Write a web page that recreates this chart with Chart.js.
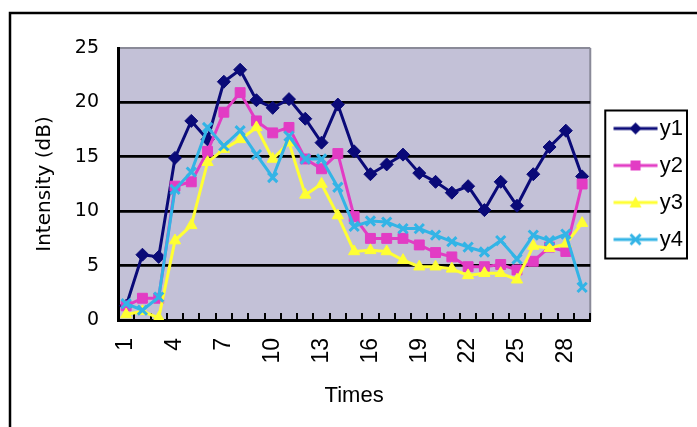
<!DOCTYPE html>
<html>
<head>
<meta charset="utf-8">
<script src="https://cdn.jsdelivr.net/npm/chart.js@4"></script>
<style>
html, body { margin: 0; padding: 0; background: #fff; }
</style>
</head>
<body>
<canvas id="intensityChart" width="697" height="427"></canvas>
<script>
// values
const categories = [1, 2, 3, 4, 5, 6, 7, 8, 9, 10, 11, 12, 13, 14, 15, 16, 17, 18, 19, 20, 21, 22, 23, 24, 25, 26, 27, 28, 29]
const tickLabels = [1, 4, 7, 10, 13, 16, 19, 22, 25, 28]
const yTicks = [0, 5, 10, 15, 20, 25]

const y1 = [1.3, 6.0, 5.8, 14.9, 18.3, 16.6, 21.9, 23.0, 20.2, 19.5, 20.3, 18.5, 16.3, 19.8, 15.5, 13.4, 14.3, 15.2, 13.5, 12.7, 11.7, 12.3, 10.1, 12.7, 10.5, 13.4, 15.9, 17.4, 13.2]
const y2 = [1.3, 2.0, 2.0, 12.3, 12.7, 15.5, 19.1, 20.9, 18.3, 17.2, 17.7, 14.8, 13.9, 15.3, 9.5, 7.5, 7.5, 7.5, 6.9, 6.2, 5.8, 4.9, 4.9, 5.1, 4.6, 5.4, 6.7, 6.3, 12.5]
const y3 = [0.5, 0.8, 0.2, 7.3, 8.7, 14.5, 15.7, 16.6, 17.7, 14.8, 16.3, 11.5, 12.5, 9.6, 6.3, 6.4, 6.3, 5.5, 4.9, 4.9, 4.7, 4.1, 4.3, 4.3, 3.7, 6.8, 6.6, 7.0, 8.9]
const y4 = [1.5, 0.9, 2.1, 12.0, 13.6, 17.7, 16.0, 17.4, 15.2, 13.1, 16.9, 14.8, 14.8, 12.2, 8.6, 9.1, 9.0, 8.4, 8.4, 7.8, 7.2, 6.7, 6.25, 7.3, 5.6, 7.8, 7.3, 7.9, 3.0]

const seriesNames = ['y1', 'y2', 'y3', 'y4']
const seriesColors = ['#0a0a78', '#e23cc4', '#ffff33', '#33b4e6']
const seriesStyles = ['rectRot', 'rect', 'triangle', 'crossRot']

// little line + marker pictures for the legend (left part left empty so the
// sample sits where the original one does)
function legendSample(color, style) {
    var c = document.createElement('canvas')
    c.width = 62
    c.height = 16
    var g = c.getContext('2d')
    var x0 = 17.5, x1 = 61.5, m = (x0 + x1) / 2
    g.strokeStyle = color
    g.fillStyle = color
    g.lineWidth = 3
    g.beginPath()
    g.moveTo(x0, 8)
    g.lineTo(x1, 8)
    g.stroke()
    g.beginPath()
    if (style === 'rectRot') {
        g.moveTo(m, 2); g.lineTo(m + 6, 8); g.lineTo(m, 14); g.lineTo(m - 6, 8); g.closePath(); g.fill()
    } else if (style === 'rect') {
        g.rect(m - 5, 3, 10, 10); g.fill()
    } else if (style === 'triangle') {
        g.moveTo(m, 2); g.lineTo(m + 6, 13); g.lineTo(m - 6, 13); g.closePath(); g.fill()
    } else {
        g.moveTo(m - 5, 3); g.lineTo(m + 5, 13); g.moveTo(m + 5, 3); g.lineTo(m - 5, 13); g.stroke()
    }
    return c
}

const frame = {
    id: 'frame',
    beforeDraw(chart) {
        const {ctx, chartArea: a} = chart
        ctx.save()
        ctx.fillStyle = '#c3c1d7'
        ctx.fillRect(a.left, a.top, a.right - a.left, a.bottom - a.top)
        ctx.strokeStyle = '#8a8a98'
        ctx.lineWidth = 2
        ctx.beginPath()
        ctx.moveTo(a.right, a.top)
        ctx.lineTo(a.right, a.bottom)
        ctx.stroke()
        // outer border of the picture
        ctx.strokeStyle = '#000'
        ctx.lineWidth = 2.5
        ctx.beginPath()
        ctx.moveTo(10, 427)
        ctx.lineTo(10, 13)
        ctx.lineTo(697, 13)
        ctx.stroke()
        ctx.restore()
    },
    afterDraw(chart) {
        const boxes = chart.legend.legendHitBoxes
        if (!boxes || !boxes.length) return
        const l = Math.min(...boxes.map(b => b.left))
        const t = Math.min(...boxes.map(b => b.top)) - 7
        const r = Math.max(...boxes.map(b => b.left + b.width)) + 4
        const bt = Math.max(...boxes.map(b => b.top + b.height)) + 8
        const ctx = chart.ctx
        ctx.save()
        ctx.strokeStyle = '#000'
        ctx.lineWidth = 2
        ctx.strokeRect(l, t, r - l, bt - t)
        ctx.restore()
    }
}

const datasets = [y1, y2, y3, y4].map((values, i) => ({
    label: seriesNames[i],
    data: values,
    borderColor: seriesColors[i],
    backgroundColor: seriesColors[i],
    borderWidth: 3,
    tension: 0,
    pointStyle: seriesStyles[i],
    pointRadius: seriesStyles[i] === 'rect' ? 7 : 6.5,
    pointBorderWidth: seriesStyles[i] === 'crossRot' ? 3 : 1,
    order: 4 - i
}))

new Chart(document.getElementById('intensityChart'), {
    type: 'line',
    data: {labels: categories, datasets: datasets},
    options: {
        responsive: false,
        animation: false,
        layout: {padding: {left: 33, top: 48, right: 4, bottom: 12}},
        plugins: {
            tooltip: {enabled: false},
            legend: {
                position: 'right',
                fullSize: false,
                labels: {
                    usePointStyle: true,
                    pointStyleWidth: 43.5,
                    padding: 15,
                    color: '#000',
                    font: {family: "'Liberation Sans', sans-serif", size: 22},
                    sort: (a, b) => a.datasetIndex - b.datasetIndex,
                    generateLabels(chart) {
                        const items = Chart.defaults.plugins.legend.labels.generateLabels(chart)
                        return items.map(item => {
                            item.pointStyle = legendSample(seriesColors[item.datasetIndex], seriesStyles[item.datasetIndex])
                            return item
                        })
                    }
                }
            }
        },
        scales: {
            x: {
                offset: true,
                grid: {display: true, offset: true, drawOnChartArea: false, drawTicks: true, tickLength: -7, color: '#000', lineWidth: 2},
                border: {color: '#000', width: 3},
                ticks: {
                    autoSkip: false,
                    minRotation: 90,
                    maxRotation: 90,
                    padding: 25,
                    color: '#000',
                    font: {family: "'Liberation Sans', sans-serif", size: 23},
                    callback: (value, index) => tickLabels.includes(categories[index]) ? String(categories[index]) : ''
                },
                title: {display: true, text: 'Times', color: '#000', font: {family: "'Liberation Sans', sans-serif", size: 22}, padding: {top: 0, bottom: 6}},
                afterFit(scale) { scale.height = 95 }
            },
            y: {
                min: 0,
                max: 25,
                afterBuildTicks(scale) { scale.ticks = yTicks.map(v => ({value: v})) },
                grid: {
                    color: c => c.tick && c.tick.value === 25 ? '#8a8a98' : '#000',
                    lineWidth: c => c.tick && c.tick.value === 25 ? 2 : 2.8,
                    drawTicks: false
                },
                border: {color: '#000', width: 3},
                ticks: {color: '#000', font: {family: "'DejaVu Sans', sans-serif", size: 19}, padding: 19},
                title: {display: true, text: 'Intensity (dB)', color: '#000', font: {family: "'DejaVu Sans', sans-serif", size: 20}, padding: {top: 0, bottom: 4}},
                afterFit(scale) { scale.width = 85 }
            }
        }
    },
    plugins: [frame]
})
</script>
</body>
</html>
